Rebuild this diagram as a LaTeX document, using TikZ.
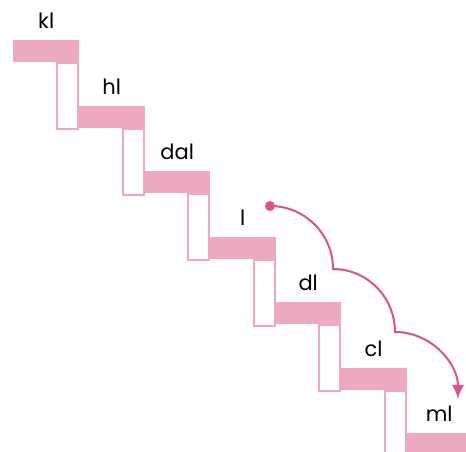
\documentclass[tikz,border=0pt]{standalone}
\usepackage{fontspec}
\setmainfont{Poppins}
\usetikzlibrary{positioning,arrows.meta}

\definecolor{stairpink}{HTML}{ECA9C1}
\definecolor{hoppink}{HTML}{E0508A}

\begin{document}
\begin{tikzpicture}[
  x=1pt, y=1pt,
  >=Latex,
  font=\fontsize{21}{24}\selectfont,
  tread/.style={fill=stairpink, anchor=north west, inner sep=0pt,
                minimum width=66pt, minimum height=22pt},
  riser/.style={draw=stairpink, line width=2pt, fill=white, anchor=north east,
                inner sep=0pt, minimum width=21pt, minimum height=66pt},
  lbl/.style={anchor=base, inner sep=0pt},
  hop/.style={draw=hoppink, line width=2pt, -{Latex[length=14pt,width=12pt]}},
]
  \clip (0,0) rectangle (466,452);

  % the stairs, from top left down to bottom right
  \foreach \name [count=\i from 0] in {kl,hl,dal,l,dl,cl,ml} {
    \node[tread] (t\i) at ({13+65.5*\i},{412-65.5*\i}) {};
    \node[riser] (r\i) at (t\i.south east) {};
    \node[tread] at (t\i.north west) {};
    \node[lbl] (n\i) at ([yshift=11pt]t\i.north) {\name};
  }

  % jumps from l down to ml
  \coordinate (hop0) at (270,246);
  \coordinate (hop1) at (333,183);
  \coordinate (hop2) at (395,120);
  \coordinate (hop3) at (458,53);
  \fill[hoppink] (hop0) circle (5);
  \draw[hop] (hop0) to[out=0, in=90] (hop1)
                    to[out=0, in=90] (hop2)
                    to[out=0, in=90] (hop3);
\end{tikzpicture}
\end{document}
